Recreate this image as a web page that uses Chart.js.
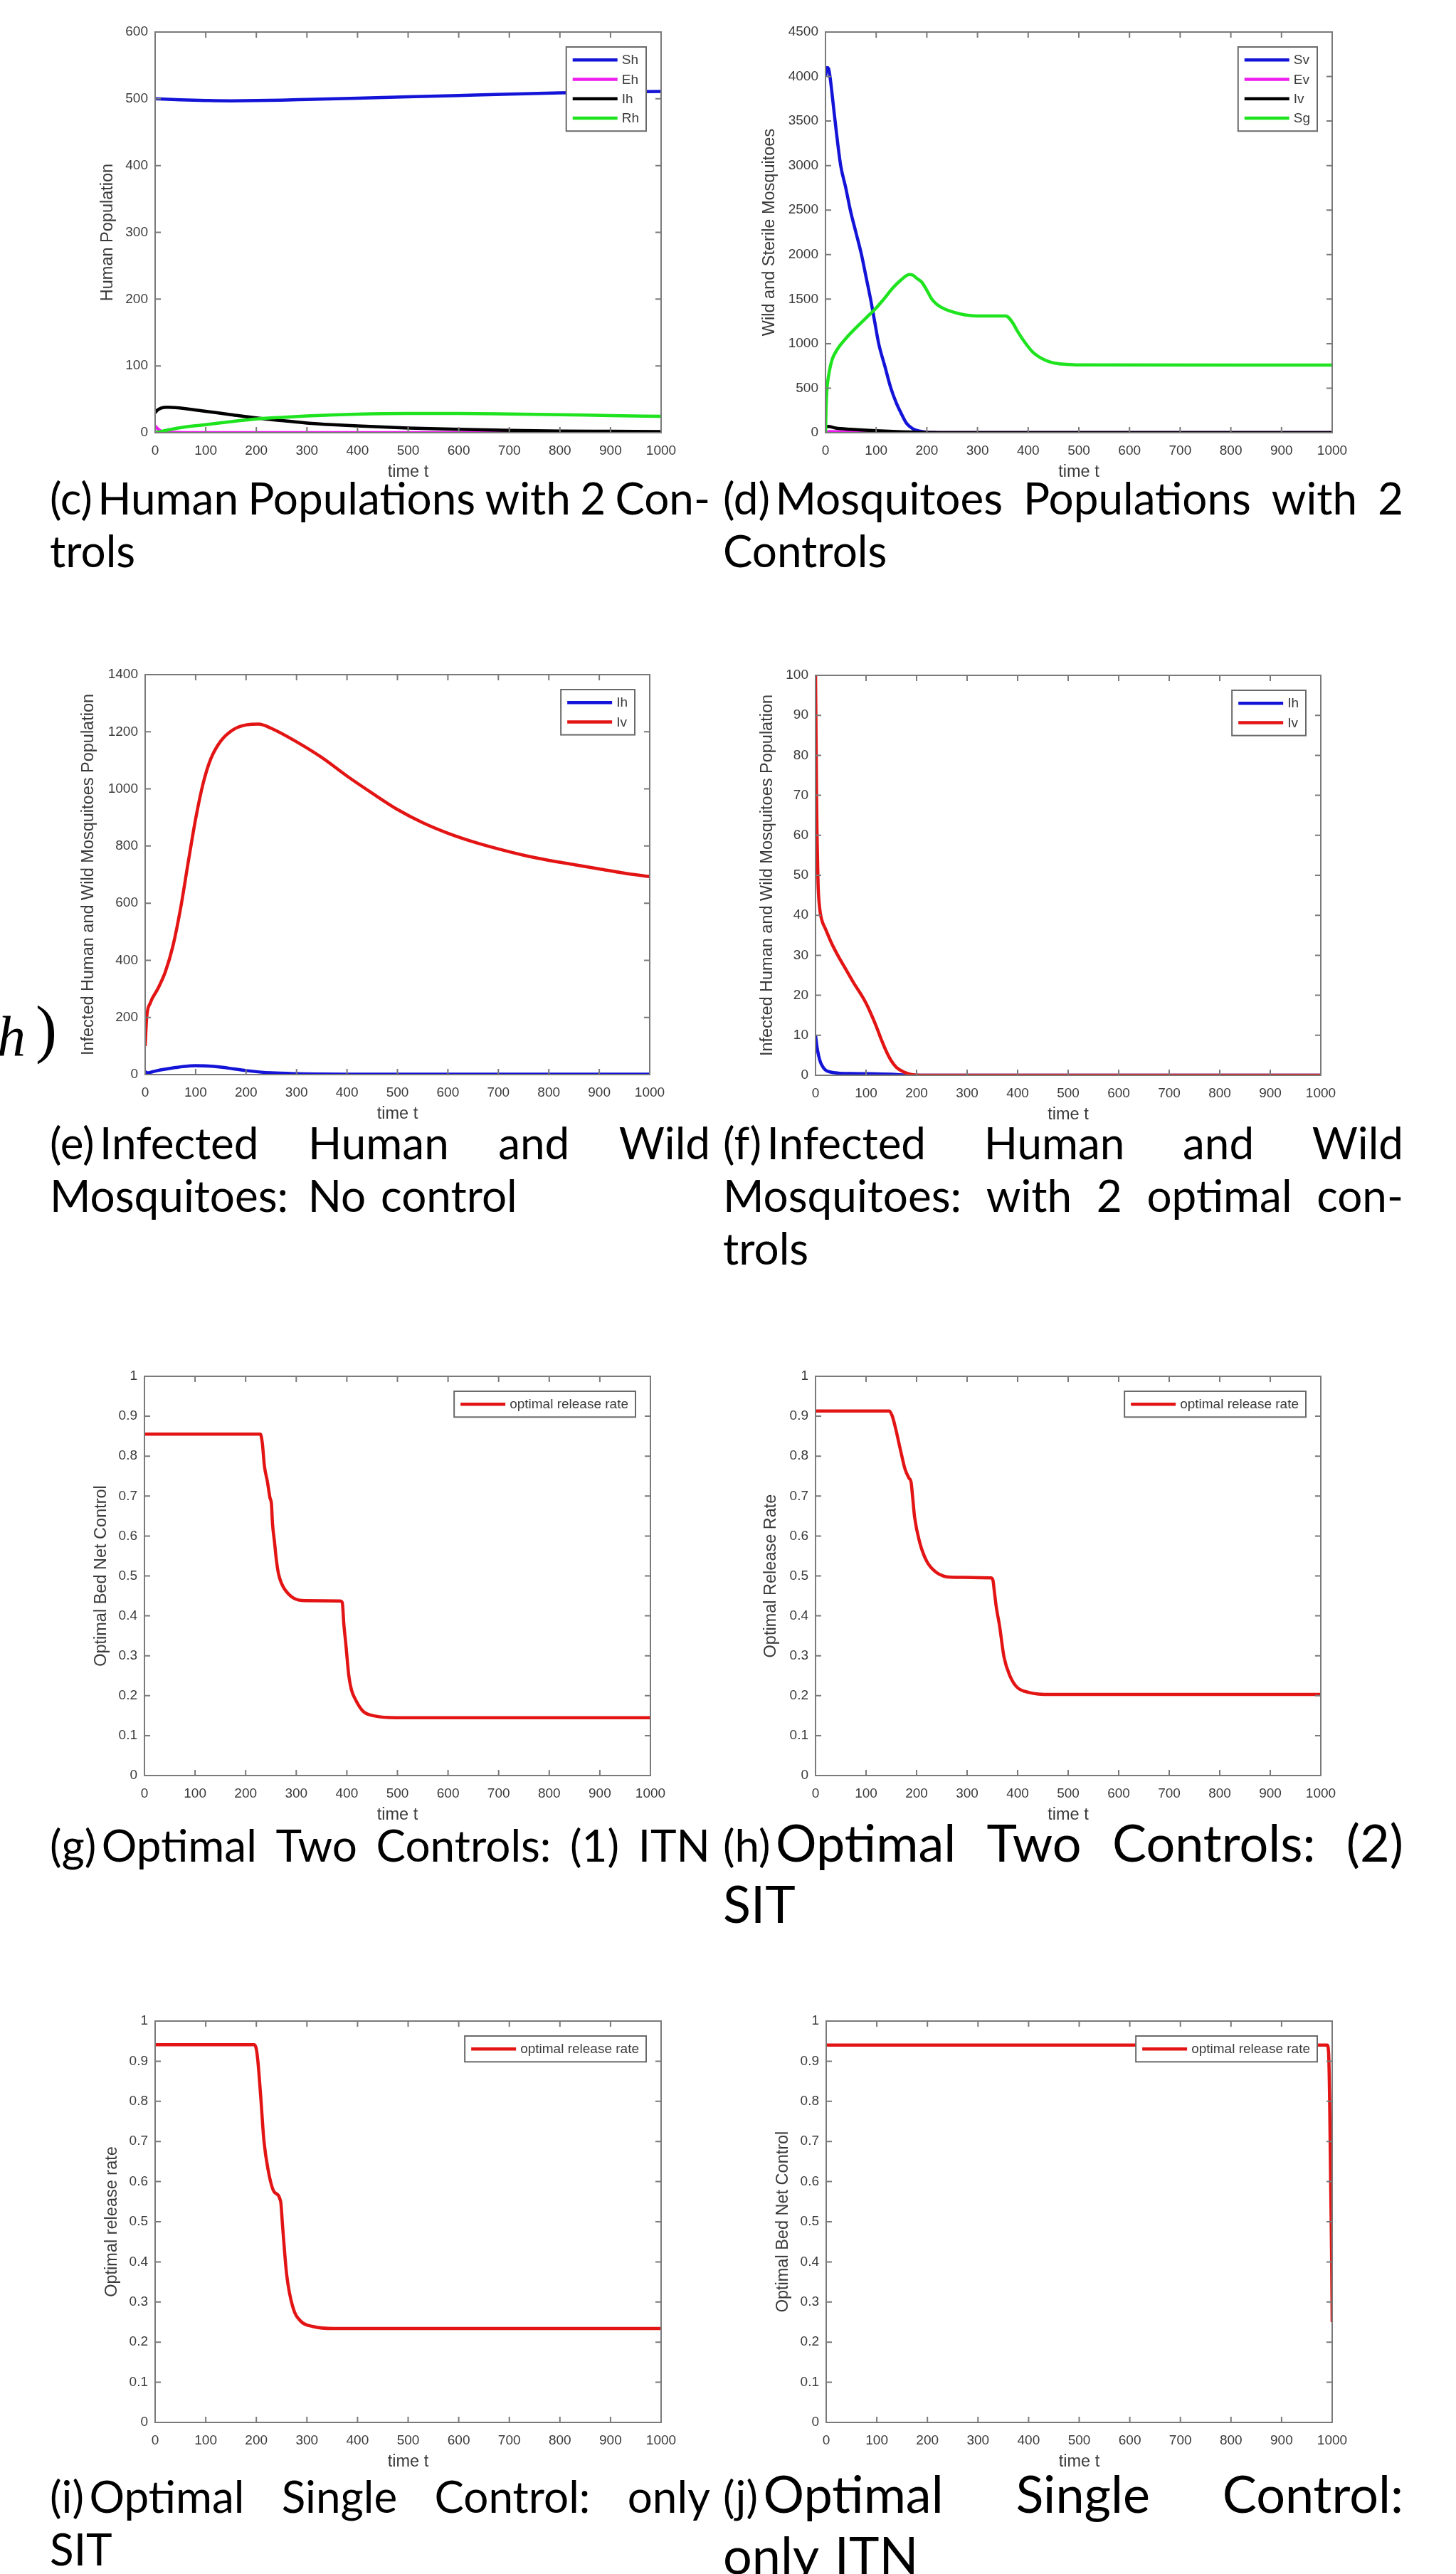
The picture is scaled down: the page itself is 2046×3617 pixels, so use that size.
<!DOCTYPE html>
<html>
<head>
<meta charset="utf-8">
<title>Malaria control model figures</title>
<script src="https://cdn.jsdelivr.net/npm/chart.js@4.4.1/dist/chart.umd.min.js"></script>
<style>
  html, body { margin:0; padding:0; background:#fff; }
  body { width:2046px; height:3617px; position:relative; overflow:hidden; }
  canvas.plot { position:absolute; }
  .cap { position:absolute; font-family: Lato, 'Noto Sans', sans-serif; font-size:62px; line-height:1; white-space:nowrap; color:#000; word-spacing:0.08em; }
  .just { display:flex; justify-content:space-between; align-items:baseline; word-spacing:0; }
  .lab { margin-right:0.12em; }
  .big { font-size:72px; }
  .stray { position:absolute; font-family:'Liberation Serif','DejaVu Serif',serif; line-height:1; color:#000; }
</style>
</head>
<body>
<div class="stray" style="left:-4px;top:1416px;font-size:80px;font-style:italic;">h</div>
<div class="stray" style="left:50px;top:1401px;font-size:90px;">)</div>

<canvas id="pc" class="plot"></canvas>
<canvas id="pd" class="plot"></canvas>
<canvas id="pe" class="plot"></canvas>
<canvas id="pf" class="plot"></canvas>
<canvas id="pg" class="plot"></canvas>
<canvas id="ph" class="plot"></canvas>
<canvas id="pi" class="plot"></canvas>
<canvas id="pj" class="plot"></canvas>

<!-- captions -->
<div class="cap just" style="left:70px;width:928px;top:668px"><span><span class="lab">(c)</span>Human</span><span>Populations</span><span>with</span><span>2</span><span>Con-</span></div>
<div class="cap" style="left:70px;top:742px">trols</div>
<div class="cap just" style="left:1016px;width:956px;top:668px"><span><span class="lab">(d)</span>Mosquitoes</span><span>Populations</span><span>with</span><span>2</span></div>
<div class="cap" style="left:1016px;top:742px">Controls</div>

<div class="cap just" style="left:70px;width:928px;top:1574px"><span><span class="lab">(e)</span>Infected</span><span>Human</span><span>and</span><span>Wild</span></div>
<div class="cap" style="left:70px;top:1648px"><span style="margin-right:0.11em">Mosquitoes:</span> No control</div>
<div class="cap just" style="left:1016px;width:956px;top:1574px"><span><span class="lab">(f)</span>Infected</span><span>Human</span><span>and</span><span>Wild</span></div>
<div class="cap just" style="left:1016px;width:956px;top:1648px"><span>Mosquitoes:</span><span>with</span><span>2</span><span>optimal</span><span>con-</span></div>
<div class="cap" style="left:1016px;top:1722px">trols</div>

<div class="cap just" style="left:70px;width:928px;top:2561px"><span><span class="lab">(g)</span>Optimal</span><span>Two</span><span>Controls:</span><span>(1)</span><span>ITN</span></div>
<div class="cap just" style="left:1016px;width:956px;top:2552px"><span><span class="lab">(h)</span><span class="big">Optimal</span></span><span class="big">Two</span><span class="big">Controls:</span><span class="big">(2)</span></div>
<div class="cap" style="left:1016px;top:2638px"><span class="big">SIT</span></div>

<div class="cap just" style="left:70px;width:928px;top:3476px"><span><span class="lab">(i)</span>Optimal</span><span>Single</span><span>Control:</span><span>only</span></div>
<div class="cap" style="left:70px;top:3550px">SIT</div>
<div class="cap just" style="left:1016px;width:956px;top:3467px"><span><span class="lab">(j)</span><span class="big">Optimal</span></span><span class="big">Single</span><span class="big">Control:</span></div>
<div class="cap" style="left:1016px;top:3553px"><span class="big">only ITN</span></div>

<script>
// ---------------- data ----------------
const xTicks = [0,100,200,300,400,500,600,700,800,900,1000];
const xTickLabels = ['0','100','200','300','400','500','600','700','800','900','1000'];

const yTicksC = [0,100,200,300,400,500,600];
const yLabelsC = ['0','100','200','300','400','500','600'];
const yTicksD = [0,500,1000,1500,2000,2500,3000,3500,4000,4500];
const yLabelsD = ['0','500','1000','1500','2000','2500','3000','3500','4000','4500'];
const yTicksE = [0,200,400,600,800,1000,1200,1400];
const yLabelsE = ['0','200','400','600','800','1000','1200','1400'];
const yTicksF = [0,10,20,30,40,50,60,70,80,90,100];
const yLabelsF = ['0','10','20','30','40','50','60','70','80','90','100'];
const yTicksU = [0,0.1,0.2,0.3,0.4,0.5,0.6,0.7,0.8,0.9,1];
const yLabelsU = ['0','0.1','0.2','0.3','0.4','0.5','0.6','0.7','0.8','0.9','1'];

// (c) human populations with 2 controls
const cSh_t = [0,25,50,100,150,200,250,300,400,500,600,700,800,900,1000];
const cSh   = [500,499.2,498.4,497.5,497,497.3,498,499,501,503,505,507,508.8,510,511];
const cEh_t = [0,3,6,10,15,20,30,45,60,100,1000];
const cEh   = [10,7.5,5,3,1.8,1.1,0.5,0.2,0.1,0,0];
const cIh_t = [0,5,12,25,40,60,100,150,200,250,300,350,400,500,600,700,800,900,1000];
const cIh   = [30,34,37,38,37.5,36,32,27,22,18,14.5,12,10,7,5,3.5,2.5,2,1.5];
const cRh_t = [0,10,25,50,100,150,200,250,300,400,500,600,700,800,900,1000];
const cRh   = [0,1.5,4,7.5,12,16.5,20.5,23,25,27.7,28.7,28.7,28,27,25.5,24.5];

// (d) mosquito populations with 2 controls
const dSv_t = [0,3,6,10,15,22,30,40,49,60,71,80,89,97,105,117,129,140,150,160,172,185,200,220,250,1000];
const dSv   = [4000,4100,4090,3950,3700,3350,3000,2750,2500,2250,2000,1750,1500,1250,1000,750,500,330,210,105,45,18,5,1,0,0];
const dEv_t = [0,10,30,60,100,150,200,1000];
const dEv   = [10,12,9,6,3,1,0,0];
const dIv_t = [0,5,20,50,100,150,200,250,1000];
const dIv   = [60,70,52,38,22,11,3,0.5,0];
const dSg_t = [0,1,2,3,5,8,11,15,21,30,40,58,75,87,100,115,134,150,160,165,172,180,190,200,209,218,228,247,265,284,322,355,360,369,380,397,410,426,440,454,475,500,1000];
const dSg   = [0,250,400,500,600,700,780,850,915,990,1058,1166,1260,1327,1400,1500,1632,1720,1765,1776,1770,1735,1690,1600,1507,1450,1410,1363,1335,1317,1310,1310,1300,1238,1130,987,900,836,800,779,768,762,760];

// (e) infected, no control
const eIh_t = [0,5,15,30,50,75,100,125,150,175,200,250,300,350,400,500,600,1000];
const eIh   = [10,6,10,16,22,28,31,30,26,20,14,6,3,2,1.5,1,1,1];
const eIv_t = [0,3,10,25,40,55,70,85,100,115,130,150,175,200,225,250,300,350,400,450,500,550,600,650,700,750,800,850,900,950,1000];
const eIv   = [100,200,250,300,360,450,580,740,895,1020,1105,1168,1208,1224,1227,1212,1165,1110,1045,985,928,882,845,815,790,768,750,735,720,705,693];

// (f) infected, 2 optimal controls
const fIh_t = [0,3,6,10,15,20,30,45,70,100,150,190,1000];
const fIh   = [10,7,5,3.2,2,1.3,0.8,0.55,0.45,0.4,0.25,0,0];
const fIv_t = [0,1,2,3,5,8,12,20,30,44,60,75,92,100,110,120,130,140,150,160,175,190,210,1000];
const fIv   = [100,85,70,60,48,42,39,36.5,33.5,30,26.5,23.2,19.8,18,15.3,12.3,9,6,3.6,2,0.8,0.2,0,0];

// (g) ITN control (two controls)
const gU_t = [0,229,233,237,243,248,251,253,257,261,265,271,278,294,318,387,391,394,398,404,409,416,432,456,497,1000];
const gU   = [0.855,0.855,0.832,0.776,0.736,0.696,0.68,0.632,0.585,0.537,0.505,0.481,0.465,0.445,0.438,0.437,0.433,0.38,0.329,0.249,0.215,0.193,0.161,0.149,0.145,0.145];
// (h) SIT release rate (two controls)
const hU_t = [0,146,152,158,168,177,185,189,192,196,206,220,239,267,347,351,354,358,364,373,385,399,423,465,1000];
const hU   = [0.913,0.913,0.9,0.872,0.816,0.768,0.745,0.736,0.7,0.648,0.585,0.537,0.509,0.497,0.495,0.49,0.46,0.42,0.377,0.297,0.249,0.221,0.208,0.203,0.203];
// (i) SIT only
const iU_t = [0,196,200,203,209,215,223,235,248,252,260,272,288,312,353,1000];
const iU   = [0.941,0.941,0.93,0.901,0.806,0.702,0.631,0.575,0.551,0.487,0.368,0.288,0.252,0.239,0.234,0.234];
// (j) ITN only
const jU_t = [0,990,993,995,997,999,1000];
const jU   = [0.94,0.94,0.92,0.8,0.6,0.4,0.25];

// ---------------- style / layout ----------------
const FONT = "'Liberation Sans', Arial, Helvetica, sans-serif";
const AXC = '#7a7a7a', TXT = '#3a3a3a';
const BLUE = '#1414d8', MAGENTA = '#ee1dee', BLACK = '#000000', GREEN = '#1fe31f', RED = '#e31414';

const matlabPlugin = {
  id: 'matlab',
  afterDatasetsDraw(chart, args, opts) {
    const { ctx, chartArea: a } = chart;
    const xs = chart.scales.x, ys = chart.scales.y;
    ctx.save();
    ctx.strokeStyle = AXC; ctx.lineWidth = 2;
    ctx.strokeRect(a.left, a.top, a.right - a.left, a.bottom - a.top);
    const L = 8;
    ctx.beginPath();
    xs.ticks.forEach(t => {
      const px = xs.getPixelForValue(t.value);
      ctx.moveTo(px, a.bottom); ctx.lineTo(px, a.bottom - L);
      ctx.moveTo(px, a.top); ctx.lineTo(px, a.top + L);
    });
    ys.ticks.forEach(t => {
      const py = ys.getPixelForValue(t.value);
      ctx.moveTo(a.left, py); ctx.lineTo(a.left + L, py);
      ctx.moveTo(a.right, py); ctx.lineTo(a.right - L, py);
    });
    ctx.stroke();
    ctx.fillStyle = TXT;
    ctx.font = `23.5px ${FONT}`;
    ctx.textAlign = 'center'; ctx.textBaseline = 'middle';
    ctx.fillText(opts.xlabel, (a.left + a.right) / 2, a.bottom + 56);
    ctx.save();
    ctx.translate(a.left - opts.ylabOff, (a.top + a.bottom) / 2);
    ctx.rotate(-Math.PI / 2);
    ctx.fillText(opts.ylabel, 0, 0);
    ctx.restore();
    ctx.font = `19px ${FONT}`;
    const ds = chart.data.datasets;
    const tw = Math.max(...ds.map(d => ctx.measureText(d.label).width));
    const rowH = 27.3, padV = 4.5;
    const w = 78 + tw + 10, h = ds.length * rowH + 2 * padV;
    const lx = a.right - 21 - w, ly = a.top + 21;
    ctx.fillStyle = '#fff'; ctx.fillRect(lx, ly, w, h);
    ctx.strokeStyle = '#6a6a6a'; ctx.lineWidth = 2; ctx.strokeRect(lx, ly, w, h);
    ds.forEach((d, i) => {
      const cy = ly + padV + rowH * (i + 0.5);
      ctx.strokeStyle = d.borderColor; ctx.lineWidth = 4.5;
      ctx.beginPath(); ctx.moveTo(lx + 9, cy); ctx.lineTo(lx + 72, cy); ctx.stroke();
      ctx.fillStyle = TXT; ctx.textAlign = 'left'; ctx.textBaseline = 'middle';
      ctx.fillText(d.label, lx + 78, cy + 1);
    });
    ctx.restore();
  }
};

function buildChart(id, box, spec) {
  const PL = 140, PT = 30, PR = 40, PB = 100;
  const cv = document.getElementById(id);
  const W = box.w + PL + PR, H = box.h + PT + PB;
  cv.width = W; cv.height = H;
  cv.style.left = (box.x - PL) + 'px'; cv.style.top = (box.y - PT) + 'px';
  cv.style.width = W + 'px'; cv.style.height = H + 'px';
  new Chart(cv, {
    type: 'line',
    data: {
      datasets: spec.series.map((s, i) => ({
        label: s.label,
        data: s.t.map((t, k) => ({ x: t, y: s.v[k] })),
        borderColor: s.color, backgroundColor: s.color,
        borderWidth: 4.5, pointRadius: 0, pointHoverRadius: 0, fill: false,
        cubicInterpolationMode: 'monotone', order: -i
      }))
    },
    options: {
      responsive: false, animation: false, devicePixelRatio: 1, events: [],
      layout: { padding: { left: 0, top: PT, right: PR, bottom: 0 } },
      plugins: {
        legend: { display: false }, tooltip: { enabled: false },
        matlab: { xlabel: 'time t', ylabel: spec.ylabel, ylabOff: spec.ylabOff }
      },
      scales: {
        x: {
          type: 'linear', position: 'bottom', min: 0, max: 1000,
          afterBuildTicks: s => { s.ticks = xTicks.map(v => ({ value: v })); },
          afterFit: s => { s.height = PB; },
          ticks: { callback: (v, i) => xTickLabels[i], font: { family: FONT, size: 19 }, color: TXT, padding: 14, maxRotation: 0, minRotation: 0, autoSkip: false },
          grid: { display: false, drawTicks: false }, border: { display: false }
        },
        y: {
          type: 'linear', position: 'left', min: spec.yTicks[0], max: spec.yTicks[spec.yTicks.length - 1],
          afterBuildTicks: s => { s.ticks = spec.yTicks.map(v => ({ value: v })); },
          afterFit: s => { s.width = PL; },
          ticks: { callback: (v, i) => spec.yLabels[i], font: { family: FONT, size: 19 }, color: TXT, padding: 10, autoSkip: false },
          grid: { display: false, drawTicks: false }, border: { display: false }
        }
      }
    },
    plugins: [matlabPlugin]
  });
}

buildChart('pc', { x: 218, y: 45, w: 711, h: 563 }, {
  ylabel: 'Human Population', ylabOff: 66, yTicks: yTicksC, yLabels: yLabelsC,
  series: [
    { label: 'Sh', t: cSh_t, v: cSh, color: BLUE },
    { label: 'Eh', t: cEh_t, v: cEh, color: MAGENTA },
    { label: 'Ih', t: cIh_t, v: cIh, color: BLACK },
    { label: 'Rh', t: cRh_t, v: cRh, color: GREEN }
  ]
});
buildChart('pd', { x: 1160, y: 45, w: 712, h: 563 }, {
  ylabel: 'Wild and Sterile Mosquitoes', ylabOff: 78, yTicks: yTicksD, yLabels: yLabelsD,
  series: [
    { label: 'Sv', t: dSv_t, v: dSv, color: BLUE },
    { label: 'Ev', t: dEv_t, v: dEv, color: MAGENTA },
    { label: 'Iv', t: dIv_t, v: dIv, color: BLACK },
    { label: 'Sg', t: dSg_t, v: dSg, color: GREEN }
  ]
});
buildChart('pe', { x: 204, y: 948, w: 709, h: 562 }, {
  ylabel: 'Infected Human and Wild Mosquitoes Population', ylabOff: 79, yTicks: yTicksE, yLabels: yLabelsE,
  series: [
    { label: 'Ih', t: eIh_t, v: eIh, color: BLUE },
    { label: 'Iv', t: eIv_t, v: eIv, color: RED }
  ]
});
buildChart('pf', { x: 1146, y: 949, w: 710, h: 562 }, {
  ylabel: 'Infected Human and Wild Mosquitoes Population', ylabOff: 67, yTicks: yTicksF, yLabels: yLabelsF,
  series: [
    { label: 'Ih', t: fIh_t, v: fIh, color: BLUE },
    { label: 'Iv', t: fIv_t, v: fIv, color: RED }
  ]
});
buildChart('pg', { x: 203, y: 1934, w: 711, h: 561 }, {
  ylabel: 'Optimal Bed Net Control', ylabOff: 60, yTicks: yTicksU, yLabels: yLabelsU,
  series: [ { label: 'optimal release rate', t: gU_t, v: gU, color: RED } ]
});
buildChart('ph', { x: 1146, y: 1934, w: 710, h: 561 }, {
  ylabel: 'Optimal Release Rate', ylabOff: 62, yTicks: yTicksU, yLabels: yLabelsU,
  series: [ { label: 'optimal release rate', t: hU_t, v: hU, color: RED } ]
});
buildChart('pi', { x: 218, y: 2840, w: 711, h: 564 }, {
  ylabel: 'Optimal release rate', ylabOff: 60, yTicks: yTicksU, yLabels: yLabelsU,
  series: [ { label: 'optimal release rate', t: iU_t, v: iU, color: RED } ]
});
buildChart('pj', { x: 1161, y: 2840, w: 711, h: 564 }, {
  ylabel: 'Optimal Bed Net Control', ylabOff: 60, yTicks: yTicksU, yLabels: yLabelsU,
  series: [ { label: 'optimal release rate', t: jU_t, v: jU, color: RED } ]
});
</script>
</body>
</html>
